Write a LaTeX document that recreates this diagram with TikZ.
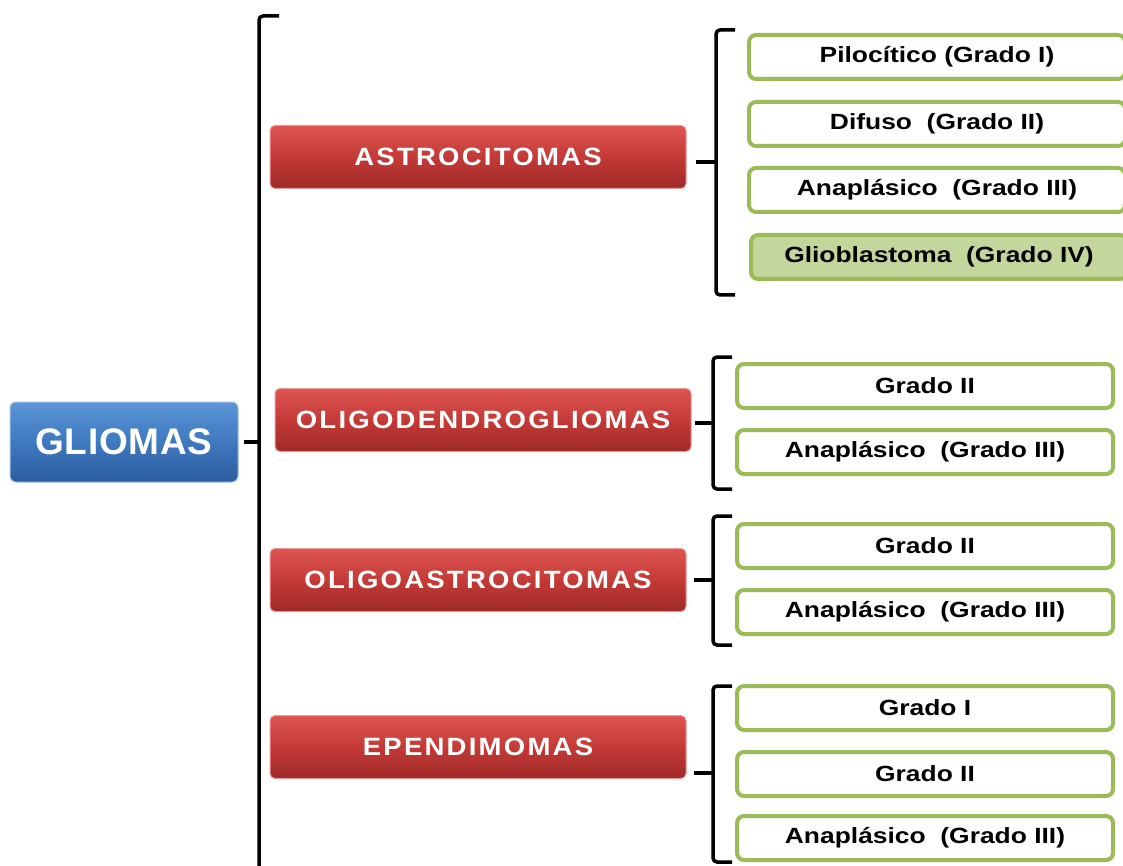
\documentclass[tikz,border=0pt]{standalone}
\usepackage{fontspec}
\setmainfont{Liberation Sans}
\usetikzlibrary{positioning}
\definecolor{rojotop}{RGB}{222,84,80}
\definecolor{rojomid}{RGB}{196,58,54}
\definecolor{rojobot}{RGB}{158,42,40}
\definecolor{azultop}{RGB}{92,150,215}
\definecolor{azulmid}{RGB}{62,120,190}
\definecolor{azulbot}{RGB}{44,94,160}
\definecolor{verde}{RGB}{155,187,89}
\definecolor{verdeclaro}{RGB}{195,214,155}

\begin{document}
\begin{tikzpicture}[x=1pt, y=-1pt,
  raiz/.style={rounded corners=6pt, top color=azultop, bottom color=azulbot, middle color=azulmid,
    draw=azultop!60!white, line width=1pt, minimum width=228pt, minimum height=80pt,
    text=white, font=\fontsize{37}{40}\selectfont\bfseries\addfontfeature{LetterSpace=2}},
  grupo/.style={rounded corners=5pt, top color=rojotop, bottom color=rojobot, middle color=rojomid,
    draw=rojotop!60!white, line width=1pt, minimum width=416pt, minimum height=63pt,
    text=white, font=\fontsize{25}{28}\selectfont\bfseries\addfontfeature{FakeStretch=1.1,LetterSpace=9}},
  tipo/.style={rounded corners=7pt, draw=verde, line width=4pt, fill=white,
    minimum width=376pt, minimum height=44pt, font=\fontsize{22}{24}\selectfont\bfseries\addfontfeature{FakeStretch=1.2}},
  llave/.style={line width=3.5pt, rounded corners=4pt}]
  \useasboundingbox (0,0) rectangle (1123,866);

  % raiz
  \node[raiz] (gliomas) at (124,442) {GLIOMAS};

  % grupos
  \node[grupo] (astro) at (478,157) {ASTROCITOMAS};
  \node[grupo] (oligod) at (483,420) {OLIGODENDROGLIOMAS};
  \node[grupo] (oligoa) at (478,580) {OLIGOASTROCITOMAS};
  \node[grupo] (epend) at (478,747) {EPENDIMOMAS};

  % astrocitomas
  \node[tipo] (pilo) at (937,57) {Pilocítico (Grado I)};
  \node[tipo] (difu) at (937,124) {Difuso~ (Grado II)};
  \node[tipo] (anap1) at (937,190) {Anaplásico~ (Grado III)};
  \node[tipo, fill=verdeclaro] (glio) at (939,257) {Glioblastoma~ (Grado IV)};

  % oligodendrogliomas
  \node[tipo] (od2) at (925,386) {Grado II};
  \node[tipo] (od3) at (925,452) {Anaplásico~ (Grado III)};

  % oligoastrocitomas
  \node[tipo] (oa2) at (925,546) {Grado II};
  \node[tipo] (oa3) at (925,612) {Anaplásico~ (Grado III)};

  % ependimomas
  \node[tipo] (ep1) at (925,708) {Grado I};
  \node[tipo] (ep2) at (925,774) {Grado II};
  \node[tipo] (ep3) at (925,838) {Anaplásico~ (Grado III)};

  % llaves
  \coordinate (l0) at (259,442);
  \draw[llave] (279,16) -- (259,16) -- (259,880);
  \draw[llave] ([xshift=5pt]gliomas.east) -- (l0);

  \coordinate (l1) at (716,162);
  \draw[llave] (735,30) -- (716,30) -- (716,295) -- (735,295);
  \draw[llave] ([xshift=9pt]astro.east |- l1) -- (l1);

  \coordinate (l2) at (713,423);
  \draw[llave] (732,357) -- (713,357) -- (713,489) -- (732,489);
  \draw[llave] ([xshift=3pt]oligod.east |- l2) -- (l2);

  \coordinate (l3) at (713,580);
  \draw[llave] (732,516) -- (713,516) -- (713,645) -- (732,645);
  \draw[llave] ([xshift=7pt]oligoa.east |- l3) -- (l3);

  \coordinate (l4) at (713,773);
  \draw[llave] (732,686) -- (713,686) -- (713,862) -- (732,862);
  \draw[llave] ([xshift=7pt]epend.east |- l4) -- (l4);
\end{tikzpicture}
\end{document}
